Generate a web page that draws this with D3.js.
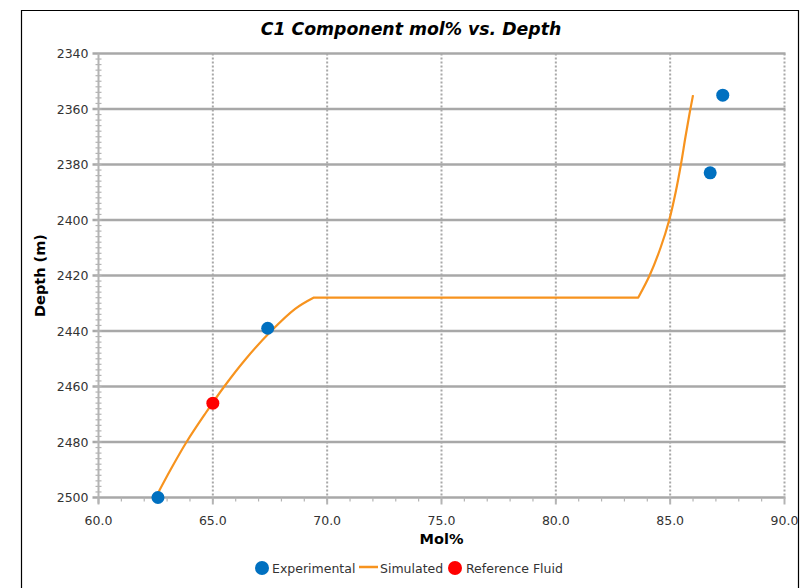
<!DOCTYPE html>
<html>
<head>
<meta charset="utf-8">
<script src="https://cdn.jsdelivr.net/npm/d3@7"></script>
<style>
  html, body { margin: 0; padding: 0; background: #fff; }
  svg { display: block; font-family: "DejaVu Sans", Verdana, sans-serif; }
</style>
</head>
<body>
<svg id="chart" width="805" height="588"></svg>
<script>
// Experimental C1 measurements
const expMol = [62.6, 67.4, 86.75, 87.3];
const expDepth = [2500, 2439, 2383, 2355];

// Reference fluid sample
const refMol = [65.0];
const refDepth = [2466];

// Simulated C1 profile (mol%, depth)
const simMol = [62.5, 63.15, 63.85, 64.65, 65.5, 66.45, 67.55, 68.6, 69.4, 83.6, 84.1, 84.58, 84.96, 85.24, 85.47, 85.67, 85.84, 86.0];
const simDepth = [2500, 2490, 2480, 2470, 2460, 2450, 2440, 2432, 2428, 2428, 2420, 2410, 2400, 2390, 2380, 2370, 2362, 2355];

const xTicks = [60, 65, 70, 75, 80, 85, 90];
const yTicks = [2340, 2360, 2380, 2400, 2420, 2440, 2460, 2480, 2500];

(function draw() {
  const svg = d3.select("#chart");
  const pl = 98.5, pr = 784.5, pt = 53.5, pb = 497.5;

  const x = d3.scaleLinear().domain([60, 90]).range([pl, pr]);
  const y = d3.scaleLinear().domain([2340, 2500]).range([pt, pb]);

  // outer frame
  svg.append("path")
    .attr("d", "M21.5,600 V10.5 H798.5 V600")
    .attr("fill", "none").attr("stroke", "#000").attr("stroke-width", 1.2);

  // title
  svg.append("text")
    .attr("x", 411).attr("y", 35)
    .attr("text-anchor", "middle")
    .attr("font-size", 17.3).attr("font-weight", "bold").attr("font-style", "italic")
    .attr("fill", "#000")
    .text("C1 Component mol% vs. Depth");

  // vertical dotted grid
  svg.append("g").selectAll("line").data(xTicks.slice(1)).join("line")
    .attr("x1", d => x(d)).attr("x2", d => x(d))
    .attr("y1", pt).attr("y2", pb)
    .attr("stroke", "#a8a8a8").attr("stroke-width", 2).attr("stroke-dasharray", "2,2");

  // horizontal solid grid
  svg.append("g").selectAll("line").data(yTicks).join("line")
    .attr("x1", pl - 6).attr("x2", pr + 1)
    .attr("y1", d => y(d)).attr("y2", d => y(d))
    .attr("stroke", "#a8a8a8").attr("stroke-width", 2.4);

  // y axis line with minor ticks
  const yAxisG = svg.append("g");
  yAxisG.append("line")
    .attr("x1", pl).attr("x2", pl).attr("y1", pt).attr("y2", pb + 6)
    .attr("stroke", "#b4b4b4").attr("stroke-width", 2);
  yAxisG.selectAll("line.minor").data(d3.range(2342, 2500, 2)).join("line")
    .attr("class", "minor")
    .attr("x1", pl - 3).attr("x2", pl + 3)
    .attr("y1", d => y(d)).attr("y2", d => y(d))
    .attr("stroke", "#b4b4b4").attr("stroke-width", 1.2);

  // x axis minor and major ticks
  const xAxisG = svg.append("g");
  xAxisG.selectAll("line.minor").data(d3.range(61, 90, 1)).join("line")
    .attr("class", "minor")
    .attr("x1", d => x(d)).attr("x2", d => x(d))
    .attr("y1", pb).attr("y2", pb + 4)
    .attr("stroke", "#b4b4b4").attr("stroke-width", 1.2);
  xAxisG.selectAll("line.major").data(xTicks).join("line")
    .attr("class", "major")
    .attr("x1", d => x(d)).attr("x2", d => x(d))
    .attr("y1", pb).attr("y2", pb + 7)
    .attr("stroke", "#b4b4b4").attr("stroke-width", 2);

  // tick labels
  svg.append("g").selectAll("text").data(yTicks).join("text")
    .attr("x", pl - 10).attr("y", d => y(d) + 4.5)
    .attr("text-anchor", "end").attr("font-size", 12.5).attr("fill", "#333")
    .text(d => d);
  svg.append("g").selectAll("text").data(xTicks).join("text")
    .attr("x", d => x(d)).attr("y", pb + 27)
    .attr("text-anchor", "middle").attr("font-size", 12.5).attr("fill", "#333")
    .text(d => d.toFixed(1));

  // axis titles
  svg.append("text")
    .attr("transform", `translate(45,${(pt + pb) / 2}) rotate(-90)`)
    .attr("text-anchor", "middle").attr("font-size", 14.5).attr("font-weight", "bold")
    .text("Depth (m)");
  svg.append("text")
    .attr("x", (pl + pr) / 2).attr("y", 544)
    .attr("text-anchor", "middle").attr("font-size", 14.5).attr("font-weight", "bold")
    .text("Mol%");

  // simulated profile: two smooth branches joined by a flat segment
  const sim = simMol.map((m, i) => [m, simDepth[i]]);
  const lower = sim.slice(0, 9), upper = sim.slice(9);
  const line = d3.line().x(d => x(d[0])).y(d => y(d[1])).curve(d3.curveCatmullRom.alpha(0.5));
  const path = line(lower) + "L" + x(upper[0][0]) + "," + y(upper[0][1]) + line(upper).replace(/^M[^CL]*/, "");
  svg.append("path")
    .attr("d", path)
    .attr("fill", "none").attr("stroke", "#f7931e").attr("stroke-width", 2.2)
    .attr("stroke-linejoin", "round");

  // experimental points
  svg.append("g").selectAll("circle").data(expMol.map((m, i) => [m, expDepth[i]])).join("circle")
    .attr("cx", d => x(d[0])).attr("cy", d => y(d[1])).attr("r", 6.5)
    .attr("fill", "#0070c0");

  // reference fluid
  svg.append("g").selectAll("circle").data(refMol.map((m, i) => [m, refDepth[i]])).join("circle")
    .attr("cx", d => x(d[0])).attr("cy", d => y(d[1])).attr("r", 6.5)
    .attr("fill", "#ff0000");

  // legend
  const lg = svg.append("g").attr("font-size", 12.5).attr("fill", "#333");
  lg.append("circle").attr("cx", 262).attr("cy", 568).attr("r", 7).attr("fill", "#0070c0");
  lg.append("text").attr("x", 272).attr("y", 572.5).text("Experimental");
  lg.append("line").attr("x1", 359).attr("x2", 378).attr("y1", 567).attr("y2", 567)
    .attr("stroke", "#f7931e").attr("stroke-width", 2.5);
  lg.append("text").attr("x", 380).attr("y", 572.5).text("Simulated");
  lg.append("circle").attr("cx", 455).attr("cy", 568).attr("r", 7).attr("fill", "#ff0000");
  lg.append("text").attr("x", 466).attr("y", 572.5).text("Reference Fluid");
})();
</script>
</body>
</html>
